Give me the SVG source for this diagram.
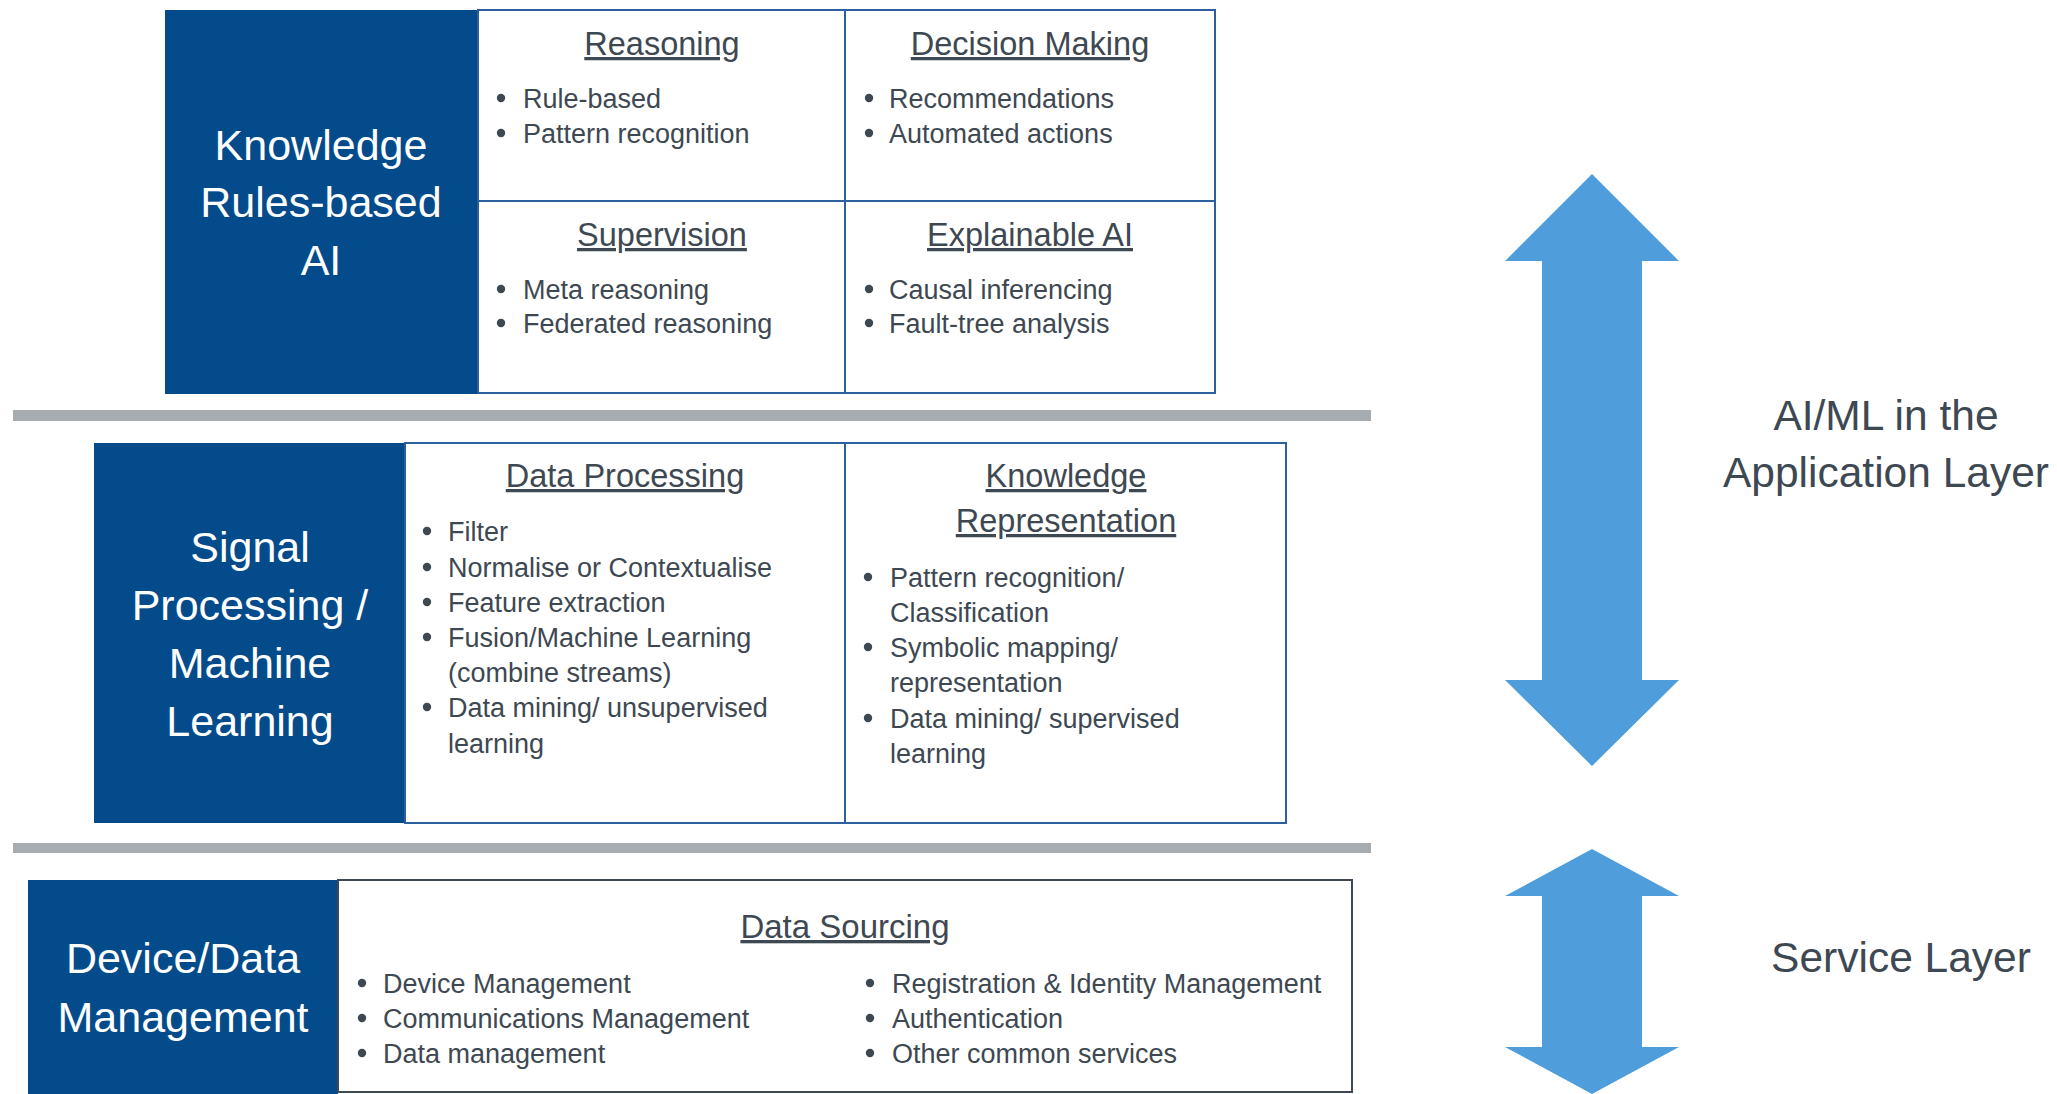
<svg xmlns="http://www.w3.org/2000/svg" width="2057" height="1094" viewBox="0 0 2057 1094">
<style>
text{font-family:"Liberation Sans",Arial,sans-serif;}
.dark{fill:#044b8c;}
.cell{fill:#ffffff;stroke:#2c5f9e;stroke-width:2;}
.band{fill:#a6acaf;}
.side{fill:#ffffff;font-size:43px;text-anchor:middle;}
.title{fill:#3e4852;font-size:32.5px;text-anchor:middle;text-decoration:underline;}
.item{fill:#3e4852;font-size:27px;}
.dot{fill:#3e4852;}
.layer{fill:#3e4852;font-size:42.5px;text-anchor:middle;}
.arrow{fill:#4f9dda;}
</style>
<rect width="2057" height="1094" fill="#ffffff"/>

<g id="bands">
<rect class="band" x="13" y="410" width="1358" height="11"/>
<rect class="band" x="13" y="843" width="1358" height="10"/>
</g>

<g id="knowledge-ai">
<rect class="dark" x="165" y="10" width="313" height="384"/>
<text class="side" x="321" y="160">Knowledge</text>
<text class="side" x="321" y="217">Rules-based</text>
<text class="side" x="321" y="275">AI</text>
</g>

<g id="reasoning">
<rect class="cell" x="478" y="10" width="367" height="191"/>
<text class="title" x="662" y="55">Reasoning</text>
<circle class="dot" cx="501" cy="98" r="4.2"/>
<text class="item" x="523" y="108">Rule-based</text>
<circle class="dot" cx="501" cy="133" r="4.2"/>
<text class="item" x="523" y="143">Pattern recognition</text>
</g>

<g id="decision-making">
<rect class="cell" x="845" y="10" width="370" height="191"/>
<text class="title" x="1030" y="55">Decision Making</text>
<circle class="dot" cx="869" cy="98" r="4.2"/>
<text class="item" x="889" y="108">Recommendations</text>
<circle class="dot" cx="869" cy="133" r="4.2"/>
<text class="item" x="889" y="143">Automated actions</text>
</g>

<g id="supervision">
<rect class="cell" x="478" y="201" width="367" height="192"/>
<text class="title" x="662" y="246">Supervision</text>
<circle class="dot" cx="501" cy="289" r="4.2"/>
<text class="item" x="523" y="299">Meta reasoning</text>
<circle class="dot" cx="501" cy="323" r="4.2"/>
<text class="item" x="523" y="333">Federated reasoning</text>
</g>

<g id="explainable-ai">
<rect class="cell" x="845" y="201" width="370" height="192"/>
<text class="title" x="1030" y="246">Explainable AI</text>
<circle class="dot" cx="869" cy="289" r="4.2"/>
<text class="item" x="889" y="299">Causal inferencing</text>
<circle class="dot" cx="869" cy="323" r="4.2"/>
<text class="item" x="889" y="333">Fault-tree analysis</text>
</g>

<g id="signal-processing-ml">
<rect class="dark" x="94" y="443" width="311" height="380"/>
<text class="side" x="250" y="562">Signal</text>
<text class="side" x="250" y="620">Processing /</text>
<text class="side" x="250" y="678">Machine</text>
<text class="side" x="250" y="736">Learning</text>
</g>

<g id="data-processing">
<rect class="cell" x="405" y="443" width="440" height="380"/>
<text class="title" x="625" y="487">Data Processing</text>
<circle class="dot" cx="427" cy="531" r="4.2"/>
<text class="item" x="448" y="541">Filter</text>
<circle class="dot" cx="427" cy="567" r="4.2"/>
<text class="item" x="448" y="577">Normalise or Contextualise</text>
<circle class="dot" cx="427" cy="602" r="4.2"/>
<text class="item" x="448" y="612">Feature extraction</text>
<circle class="dot" cx="427" cy="637" r="4.2"/>
<text class="item" x="448" y="647">Fusion/Machine Learning</text>
<text class="item" x="448" y="682">(combine streams)</text>
<circle class="dot" cx="427" cy="707" r="4.2"/>
<text class="item" x="448" y="717">Data mining/ unsupervised</text>
<text class="item" x="448" y="753">learning</text>
</g>

<g id="knowledge-representation">
<rect class="cell" x="845" y="443" width="441" height="380"/>
<text class="title" x="1066" y="487">Knowledge</text>
<text class="title" x="1066" y="532">Representation</text>
<circle class="dot" cx="868" cy="577" r="4.2"/>
<text class="item" x="890" y="587">Pattern recognition/</text>
<text class="item" x="890" y="622">Classification</text>
<circle class="dot" cx="868" cy="647" r="4.2"/>
<text class="item" x="890" y="657">Symbolic mapping/</text>
<text class="item" x="890" y="692">representation</text>
<circle class="dot" cx="868" cy="718" r="4.2"/>
<text class="item" x="890" y="728">Data mining/ supervised</text>
<text class="item" x="890" y="763">learning</text>
</g>

<g id="device-data-management">
<rect class="dark" x="28" y="880" width="310" height="214"/>
<text class="side" x="183" y="973">Device/Data</text>
<text class="side" x="183" y="1032">Management</text>
</g>

<g id="data-sourcing">
<rect x="338" y="880" width="1014" height="212" fill="#ffffff" stroke="#3f4850" stroke-width="2"/>
<text class="title" x="845" y="938" style="font-size:33px">Data Sourcing</text>
<circle class="dot" cx="362" cy="983" r="4.2"/>
<text class="item" x="383" y="993">Device Management</text>
<circle class="dot" cx="362" cy="1018" r="4.2"/>
<text class="item" x="383" y="1028">Communications Management</text>
<circle class="dot" cx="362" cy="1053" r="4.2"/>
<text class="item" x="383" y="1063">Data management</text>
<circle class="dot" cx="870" cy="983" r="4.2"/>
<text class="item" x="892" y="993">Registration &amp; Identity Management</text>
<circle class="dot" cx="870" cy="1018" r="4.2"/>
<text class="item" x="892" y="1028">Authentication</text>
<circle class="dot" cx="870" cy="1053" r="4.2"/>
<text class="item" x="892" y="1063">Other common services</text>
</g>

<g id="connectors">
<polygon class="arrow" points="1592,174 1679,261 1642,261 1642,680 1679,680 1592,766 1505,680 1542,680 1542,261 1505,261"/>
<polygon class="arrow" points="1592,849 1679,896 1642,896 1642,1047 1679,1047 1592,1094 1505,1047 1542,1047 1542,896 1505,896"/>
</g>

<g id="app-layer-label">
<text class="layer" x="1886" y="430">AI/ML in the</text>
<text class="layer" x="1886" y="487">Application Layer</text>
</g>

<g id="service-layer-label">
<text class="layer" x="1901" y="972">Service Layer</text>
</g>
</svg>
